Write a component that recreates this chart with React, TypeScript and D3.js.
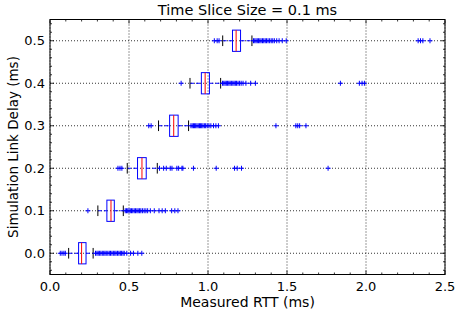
import * as d3 from "d3";
import { useRef, useEffect } from "react";

// --- data ---
const delays = [0.0, 0.1, 0.2, 0.3, 0.4, 0.5];
const q1 = [0.181, 0.36, 0.554, 0.757, 0.958, 1.155];
const medians = [0.2, 0.386, 0.582, 0.783, 0.982, 1.178];
const q3 = [0.228, 0.407, 0.609, 0.811, 1.009, 1.206];
const whiskerLo = [0.118, 0.303, 0.489, 0.687, 0.886, 1.093];
const whiskerHi = [0.273, 0.464, 0.679, 0.877, 1.08, 1.278];
const fliers = [
  [0.065, 0.076, 0.088, 0.097, 0.288, 0.297, 0.305, 0.314, 0.322, 0.331, 0.34, 0.348, 0.356, 0.366, 0.375, 0.383,
    0.392, 0.401, 0.41, 0.418, 0.427, 0.436, 0.445, 0.452, 0.462, 0.47, 0.486, 0.51, 0.528, 0.556, 0.581],
  [0.24, 0.476, 0.484, 0.492, 0.5, 0.508, 0.516, 0.524, 0.533, 0.541, 0.55, 0.558, 0.567, 0.575, 0.585, 0.596,
    0.607, 0.618, 0.635, 0.66, 0.69, 0.71, 0.73, 0.77, 0.79, 0.81],
  [0.43, 0.443, 0.455, 0.693, 0.719, 0.736, 0.761, 0.772, 0.803, 0.814, 0.835, 0.841, 0.908, 1.052, 1.168, 1.185,
    1.212, 1.76],
  [0.625, 0.64, 0.892, 0.9, 0.908, 0.915, 0.922, 0.93, 0.938, 0.946, 0.953, 0.96, 0.968, 0.977, 0.985, 0.995,
    1.006, 1.018, 1.035, 1.05, 1.066, 1.43, 1.556, 1.568, 1.58, 1.62],
  [0.83, 1.092, 1.1, 1.108, 1.116, 1.124, 1.132, 1.14, 1.148, 1.157, 1.165, 1.173, 1.18, 1.19, 1.2, 1.21, 1.222,
    1.24, 1.27, 1.3, 1.838, 1.958, 1.975, 1.99],
  [1.04, 1.058, 1.07, 1.288, 1.296, 1.304, 1.312, 1.32, 1.328, 1.336, 1.345, 1.353, 1.362, 1.37, 1.38, 1.39,
    1.4, 1.41, 1.42, 1.435, 1.45, 1.47, 1.495, 2.33, 2.345, 2.36, 2.405],
];
const xTicks = [0.0, 0.5, 1.0, 1.5, 2.0, 2.5];
const yTicks = [0.0, 0.1, 0.2, 0.3, 0.4, 0.5];

export default function App() {
  const ref = useRef<SVGSVGElement>(null);

  useEffect(() => {
    const width = 457;
    const height = 313;
    const m = { left: 50, right: 12, top: 19.5, bottom: 38.5 };
    const font = "'DejaVu Sans', sans-serif";

    const x = d3.scaleLinear().domain([0, 2.5]).range([m.left, width - m.right]);
    const y = d3.scaleLinear().domain([-0.05, 0.55]).range([height - m.bottom, m.top]);
    const boxH = y(0) - y(0.05);

    const svg = d3.select(ref.current)
      .attr("width", width)
      .attr("height", height)
      .style("font-family", font);
    svg.selectAll("*").remove();

    svg.append("rect").attr("width", width).attr("height", height).attr("fill", "#fff");

    // grid
    const grid = svg.append("g").attr("stroke", "#000").attr("stroke-dasharray", "1,2").attr("stroke-width", 0.8);
    xTicks.forEach(t => {
      grid.append("line").attr("x1", x(t)).attr("x2", x(t)).attr("y1", y(-0.05)).attr("y2", y(0.55));
    });
    yTicks.forEach(t => {
      grid.append("line").attr("x1", x(0)).attr("x2", x(2.5)).attr("y1", y(t)).attr("y2", y(t));
    });

    // boxplots
    const plot = svg.append("g");
    delays.forEach((d, i) => {
      const cy = y(d);
      const g = plot.append("g");
      // whiskers
      g.append("line").attr("x1", x(whiskerLo[i])).attr("x2", x(q1[i])).attr("y1", cy).attr("y2", cy)
        .attr("stroke", "#0000ff").attr("stroke-dasharray", "4,2");
      g.append("line").attr("x1", x(q3[i])).attr("x2", x(whiskerHi[i])).attr("y1", cy).attr("y2", cy)
        .attr("stroke", "#0000ff").attr("stroke-dasharray", "4,2");
      // caps
      [whiskerLo[i], whiskerHi[i]].forEach(v => {
        g.append("line").attr("x1", x(v)).attr("x2", x(v)).attr("y1", cy - boxH / 4).attr("y2", cy + boxH / 4)
          .attr("stroke", "#000");
      });
      // box
      g.append("rect").attr("x", x(q1[i])).attr("y", cy - boxH / 2)
        .attr("width", x(q3[i]) - x(q1[i])).attr("height", boxH)
        .attr("fill", "none").attr("stroke", "#0000ff");
      // median
      g.append("line").attr("x1", x(medians[i])).attr("x2", x(medians[i]))
        .attr("y1", cy - boxH / 2).attr("y2", cy + boxH / 2).attr("stroke", "#ff0000");
      // fliers
      fliers[i].forEach(v => {
        const px = x(v);
        g.append("path").attr("d", `M${px - 2.5},${cy}H${px + 2.5}M${px},${cy - 2.5}V${cy + 2.5}`)
          .attr("stroke", "#0000ff").attr("stroke-width", 1);
      });
    });

    // frame
    svg.append("rect").attr("x", x(0)).attr("y", y(0.55)).attr("width", x(2.5) - x(0)).attr("height", y(-0.05) - y(0.55))
      .attr("fill", "none").attr("stroke", "#000").attr("stroke-width", 1);

    // ticks (inward, all sides)
    const ticks = svg.append("g").attr("stroke", "#000").attr("stroke-width", 0.8);
    const xMinor = d3.range(0, 2.5001, 0.1);
    const yMinor = d3.range(-0.04, 0.5401, 0.02);
    xMinor.forEach(t => {
      const major = xTicks.some(v => Math.abs(v - t) < 1e-6);
      const len = major ? 4 : 2;
      ticks.append("line").attr("x1", x(t)).attr("x2", x(t)).attr("y1", y(-0.05)).attr("y2", y(-0.05) - len);
      ticks.append("line").attr("x1", x(t)).attr("x2", x(t)).attr("y1", y(0.55)).attr("y2", y(0.55) + len);
    });
    yMinor.forEach(t => {
      const major = yTicks.some(v => Math.abs(v - t) < 1e-6);
      const len = major ? 4 : 2;
      ticks.append("line").attr("x1", x(0)).attr("x2", x(0) + len).attr("y1", y(t)).attr("y2", y(t));
      ticks.append("line").attr("x1", x(2.5)).attr("x2", x(2.5) - len).attr("y1", y(t)).attr("y2", y(t));
    });

    // tick labels
    const fmt = d3.format(".1f");
    svg.append("g").selectAll("text").data(xTicks).join("text")
      .attr("x", d => x(d)).attr("y", y(-0.05) + 16)
      .attr("text-anchor", "middle").attr("font-size", 13).attr("fill", "#000")
      .text(d => fmt(d));
    svg.append("g").selectAll("text").data(yTicks).join("text")
      .attr("x", x(0) - 5).attr("y", d => y(d) + 4.5)
      .attr("text-anchor", "end").attr("font-size", 13).attr("fill", "#000")
      .text(d => fmt(d));

    // labels
    svg.append("text").attr("x", (x(0) + x(2.5)) / 2).attr("y", 306.5)
      .attr("text-anchor", "middle").attr("font-size", 14).text("Measured RTT (ms)");
    svg.append("text").attr("transform", `translate(18,${(y(-0.05) + y(0.55)) / 2}) rotate(-90)`)
      .attr("text-anchor", "middle").attr("font-size", 13.5).text("Simulation Link Delay (ms)");
    svg.append("text").attr("x", (x(0) + x(2.5)) / 2).attr("y", 15)
      .attr("text-anchor", "middle").attr("font-size", 14.5).text("Time Slice Size = 0.1 ms");
  }, []);

  return (
    <div style={{ position: "fixed", left: 0, top: 0 }}>
      <svg ref={ref}></svg>
    </div>
  );
}
